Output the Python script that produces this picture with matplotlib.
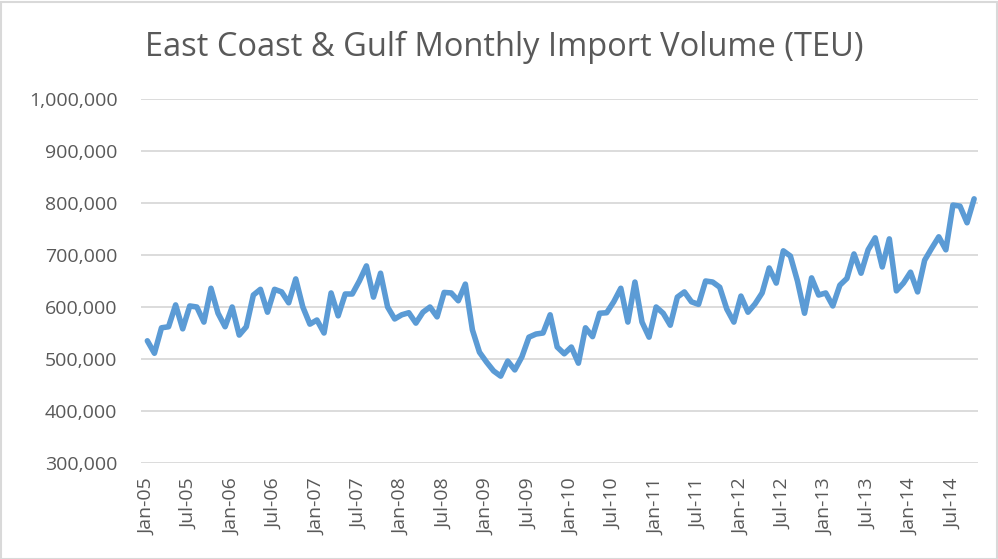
import matplotlib
matplotlib.use("Agg")
import matplotlib.pyplot as plt
from matplotlib.patches import Rectangle
from matplotlib.ticker import FuncFormatter

plt.rcParams['font.family'] = ['Open Sans', 'DejaVu Sans']

title = "East Coast & Gulf Monthly Import Volume (TEU)"

# Monthly import volume (TEU), Jan-05 .. Oct-14
volume = [
    535000, 511000, 560000, 562000, 604000, 558000, 602000, 600000, 571000, 636000, 588000, 562000,  # 2005
    600000, 546000, 562000, 623000, 634000, 590000, 634000, 629000, 608000, 654000, 600000, 567000,  # 2006
    575000, 550000, 627000, 583000, 625000, 625000, 650000, 679000, 619000, 665000, 600000, 577000,  # 2007
    585000, 589000, 569000, 590000, 600000, 581000, 628000, 627000, 612000, 644000, 556000, 513000,  # 2008
    494000, 477000, 467000, 496000, 479000, 504000, 542000, 548000, 550000, 585000, 523000, 510000,  # 2009
    523000, 492000, 560000, 543000, 588000, 589000, 610000, 636000, 571000, 648000, 571000, 542000,  # 2010
    600000, 588000, 565000, 619000, 629000, 610000, 605000, 650000, 648000, 638000, 596000, 571000,  # 2011
    621000, 590000, 606000, 627000, 675000, 646000, 708000, 698000, 650000, 588000, 656000, 623000,  # 2012
    627000, 602000, 642000, 655000, 702000, 665000, 710000, 733000, 677000, 731000, 631000, 646000,  # 2013
    667000, 629000, 690000, 713000, 735000, 710000, 796000, 794000, 762000, 808000,                  # 2014
]

tick_labels = ["Jan-05", "Jul-05", "Jan-06", "Jul-06", "Jan-07", "Jul-07", "Jan-08", "Jul-08",
               "Jan-09", "Jul-09", "Jan-10", "Jul-10", "Jan-11", "Jul-11", "Jan-12", "Jul-12",
               "Jan-13", "Jul-13", "Jan-14", "Jul-14"]

y_ticks = [300000, 400000, 500000, 600000, 700000, 800000, 900000, 1000000]

W, H = 998, 559
fig = plt.figure(figsize=(W / 100, H / 100), dpi=100)
fig.patch.set_facecolor('white')
fig.patches.append(Rectangle((0.5 / W, 0.5 / H), 1 - 2 / W, 1 - 2 / H, transform=fig.transFigure,
                             fill=False, edgecolor='#d9d9d9', linewidth=1.5))

ax = fig.add_axes([141 / W, 96 / H, (978 - 141) / W, (463 - 99) / H])
x = list(range(len(volume)))
ax.plot(x, volume, color='#5b9bd5', linewidth=4.0, solid_joinstyle='round', solid_capstyle='round',
        zorder=3)

ax.set_ylim(300000, 1000000)
ax.set_xlim(-0.9, len(volume) - 1 + 0.55)
ax.set_yticks(y_ticks)
ax.yaxis.set_major_formatter(FuncFormatter(lambda v, p: f"{int(v):,}"))
ax.set_xticks(list(range(0, 6 * len(tick_labels), 6)))
ax.set_xticklabels(tick_labels, rotation=90)

ax.grid(axis='y', color='#d9d9d9', linewidth=1.3)
ax.set_axisbelow(True)
for s in ax.spines.values():
    s.set_visible(False)
ax.tick_params(axis='both', length=0, colors='#595959', labelsize=14)
ax.tick_params(axis='y', pad=17)
ax.tick_params(axis='x', pad=11)

fig.text(504 / W, 1 - 47 / H, title, ha='center', va='center', fontsize=23.5, color='#595959')

fig.savefig('out.png', dpi=100)
